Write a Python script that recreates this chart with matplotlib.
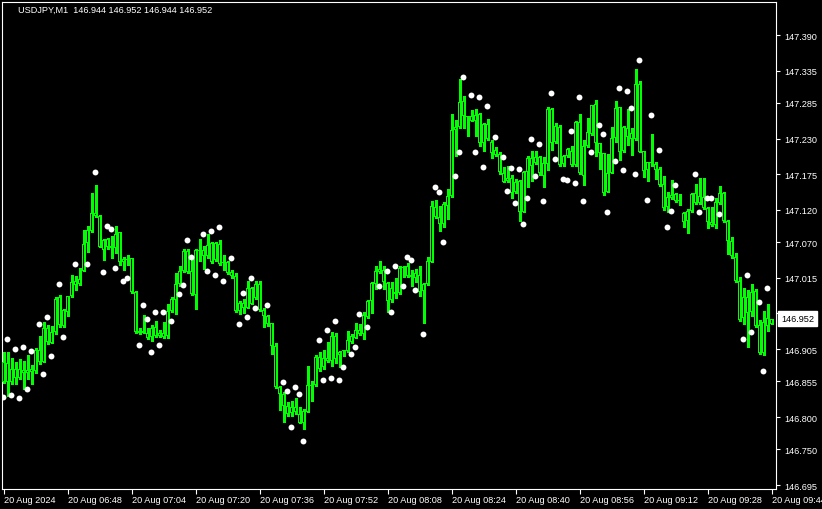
import matplotlib
matplotlib.use("Agg")
import matplotlib.pyplot as plt
import numpy as np

plt.rcParams["font.family"] = ["Liberation Sans", "DejaVu Sans"]

# ---- data: USDJPY M1, 20 Aug 2024 06:32 .. 09:44 ----
opens = [
    146.885, 146.854, 146.874, 146.860, 146.874, 146.868, 146.873, 146.870, 146.871, 146.904,
    146.885, 146.938, 146.914, 146.931, 146.985, 146.941, 146.962, 146.987, 147.010, 147.006,
    147.026, 147.069, 147.087, 147.115, 147.111, 147.058, 147.075, 147.064, 147.061, 147.086,
    147.040, 147.044, 147.046, 146.993, 146.930, 146.933, 146.930, 146.924, 146.939, 146.925,
    146.930, 146.925, 146.964, 146.981, 147.006, 147.026, 147.056, 147.026, 146.988, 147.058,
    147.058, 147.049, 147.069, 147.043, 147.067, 147.038, 147.040, 147.024, 147.018, 146.964,
    146.976, 146.968, 146.999, 146.984, 147.006, 146.965, 146.956, 146.945, 146.910, 146.846,
    146.836, 146.817, 146.806, 146.815, 146.805, 146.791, 146.808, 146.849, 146.849, 146.893,
    146.877, 146.891, 146.887, 146.925, 146.896, 146.902, 146.902, 146.916, 146.922, 146.934,
    146.928, 146.954, 146.979, 147.006, 147.024, 147.027, 147.007, 146.981, 146.993, 146.992,
    147.030, 147.033, 147.019, 147.015, 147.019, 146.995, 147.006, 147.040, 147.124, 147.109,
    147.098, 147.126, 147.141, 147.243, 147.248, 147.288, 147.265, 147.257, 147.266, 147.268,
    147.223, 147.253, 147.225, 147.212, 147.206, 147.177, 147.165, 147.169, 147.148, 147.165,
    147.117, 147.179, 147.200, 147.192, 147.202, 147.172, 147.191, 147.276, 147.225, 147.248,
    147.191, 147.203, 147.211, 147.189, 147.256, 147.172, 147.219, 147.237, 147.284, 147.223,
    147.208, 147.148, 147.177, 147.231, 147.279, 147.211, 147.246, 147.229, 147.229, 147.314,
    147.211, 147.182, 147.194, 147.191, 147.183, 147.160, 147.124, 147.138, 147.144, 147.134,
    147.115, 147.103, 147.118, 147.146, 147.131, 147.140, 147.123, 147.101, 147.097, 147.131,
    147.146, 147.103, 147.072, 147.047, 147.010, 146.953, 146.985, 146.962, 146.995, 146.942,
    146.899, 146.953, 146.944,
]
highs = [
    146.900, 146.900, 146.891, 146.885, 146.890, 146.886, 146.896, 146.880, 146.907, 146.925,
    146.947, 146.942, 146.941, 146.985, 146.988, 146.967, 146.987, 147.019, 147.018, 147.030,
    147.089, 147.095, 147.146, 147.158, 147.112, 147.075, 147.077, 147.080, 147.095, 147.086,
    147.047, 147.050, 147.046, 146.995, 146.938, 146.958, 146.938, 146.942, 146.948, 146.934,
    146.947, 146.975, 146.985, 147.022, 147.033, 147.060, 147.060, 147.049, 147.060, 147.075,
    147.064, 147.083, 147.070, 147.070, 147.073, 147.050, 147.041, 147.027, 147.022, 146.979,
    146.982, 147.010, 147.001, 147.010, 147.010, 146.968, 146.958, 146.945, 146.914, 146.848,
    146.839, 146.823, 146.825, 146.829, 146.815, 146.812, 146.879, 146.856, 146.896, 146.900,
    146.904, 146.916, 146.931, 146.930, 146.902, 146.904, 146.933, 146.928, 146.945, 146.944,
    146.962, 146.981, 147.009, 147.033, 147.041, 147.033, 147.009, 147.009, 147.015, 147.033,
    147.033, 147.038, 147.027, 147.029, 147.033, 147.007, 147.047, 147.134, 147.135, 147.126,
    147.132, 147.152, 147.268, 147.259, 147.322, 147.296, 147.265, 147.274, 147.276, 147.270,
    147.254, 147.260, 147.228, 147.217, 147.209, 147.186, 147.188, 147.174, 147.168, 147.166,
    147.180, 147.203, 147.211, 147.211, 147.203, 147.202, 147.279, 147.277, 147.254, 147.251,
    147.205, 147.216, 147.219, 147.257, 147.268, 147.228, 147.262, 147.282, 147.290, 147.223,
    147.208, 147.206, 147.248, 147.288, 147.279, 147.250, 147.276, 147.246, 147.338, 147.319,
    147.211, 147.194, 147.237, 147.194, 147.186, 147.172, 147.148, 147.166, 147.146, 147.144,
    147.117, 147.121, 147.146, 147.160, 147.169, 147.169, 147.124, 147.124, 147.138, 147.157,
    147.148, 147.104, 147.078, 147.053, 147.016, 146.999, 146.996, 147.006, 146.998, 146.950,
    146.964, 146.975, 146.952,
]
lows = [
    146.853, 146.833, 146.851, 146.851, 146.859, 146.843, 146.859, 146.851, 146.868, 146.882,
    146.885, 146.913, 146.914, 146.928, 146.939, 146.939, 146.956, 146.985, 146.996, 147.004,
    147.026, 147.055, 147.086, 147.109, 147.063, 147.043, 147.060, 147.046, 147.053, 147.035,
    147.027, 147.035, 146.992, 146.930, 146.928, 146.930, 146.921, 146.917, 146.924, 146.924,
    146.922, 146.922, 146.962, 146.959, 147.002, 147.024, 147.022, 146.988, 146.967, 147.041,
    147.029, 147.046, 147.038, 147.041, 147.035, 147.027, 147.021, 147.015, 146.962, 146.959,
    146.961, 146.968, 146.975, 146.982, 146.964, 146.939, 146.941, 146.897, 146.845, 146.811,
    146.792, 146.802, 146.802, 146.805, 146.791, 146.782, 146.808, 146.825, 146.848, 146.871,
    146.874, 146.885, 146.879, 146.883, 146.877, 146.894, 146.900, 146.914, 146.922, 146.927,
    146.921, 146.953, 146.961, 146.998, 147.022, 146.998, 146.962, 146.978, 146.984, 146.990,
    147.016, 147.016, 147.002, 147.009, 146.987, 146.945, 147.004, 147.040, 147.107, 147.087,
    147.094, 147.106, 147.140, 147.203, 147.246, 147.246, 147.234, 147.257, 147.234, 147.219,
    147.211, 147.228, 147.200, 147.203, 147.175, 147.163, 147.163, 147.138, 147.146, 147.103,
    147.117, 147.155, 147.165, 147.191, 147.174, 147.155, 147.182, 147.212, 147.223, 147.188,
    147.188, 147.202, 147.188, 147.188, 147.175, 147.158, 147.217, 147.236, 147.203, 147.183,
    147.143, 147.148, 147.177, 147.225, 147.197, 147.209, 147.220, 147.205, 147.228, 147.209,
    147.171, 147.165, 147.188, 147.168, 147.157, 147.120, 147.117, 147.137, 147.132, 147.128,
    147.094, 147.084, 147.117, 147.129, 147.129, 147.121, 147.092, 147.095, 147.092, 147.129,
    147.101, 147.052, 147.046, 147.009, 146.948, 146.944, 146.908, 146.956, 146.939, 146.897,
    146.896, 146.933, 146.944,
]
closes = [
    146.854, 146.883, 146.854, 146.874, 146.860, 146.873, 146.868, 146.874, 146.904, 146.885,
    146.938, 146.916, 146.931, 146.982, 146.942, 146.965, 146.987, 147.009, 147.004, 147.013,
    147.067, 147.089, 147.115, 147.111, 147.063, 147.073, 147.063, 147.061, 147.083, 147.040,
    147.044, 147.043, 146.993, 146.931, 146.933, 146.930, 146.922, 146.938, 146.925, 146.930,
    146.924, 146.964, 146.982, 147.006, 147.026, 147.056, 147.024, 146.990, 147.058, 147.056,
    147.049, 147.066, 147.040, 147.069, 147.036, 147.040, 147.022, 147.018, 146.964, 146.976,
    146.968, 146.999, 146.975, 147.006, 146.965, 146.956, 146.944, 146.910, 146.846, 146.836,
    146.817, 146.805, 146.815, 146.808, 146.791, 146.809, 146.849, 146.848, 146.893, 146.874,
    146.891, 146.887, 146.925, 146.890, 146.900, 146.904, 146.919, 146.925, 146.934, 146.928,
    146.958, 146.979, 147.007, 147.026, 147.029, 147.009, 146.979, 146.999, 146.990, 147.030,
    147.032, 147.018, 147.016, 147.022, 146.993, 147.006, 147.041, 147.126, 147.109, 147.098,
    147.129, 147.141, 147.243, 147.248, 147.287, 147.265, 147.263, 147.265, 147.257, 147.223,
    147.253, 147.229, 147.208, 147.205, 147.179, 147.163, 147.169, 147.146, 147.163, 147.117,
    147.179, 147.200, 147.188, 147.202, 147.177, 147.192, 147.276, 147.223, 147.250, 147.189,
    147.203, 147.214, 147.189, 147.256, 147.177, 147.219, 147.240, 147.282, 147.223, 147.208,
    147.146, 147.177, 147.231, 147.277, 147.209, 147.248, 147.233, 147.239, 147.314, 147.209,
    147.180, 147.194, 147.192, 147.182, 147.158, 147.123, 147.140, 147.143, 147.134, 147.135,
    147.101, 147.118, 147.144, 147.131, 147.141, 147.123, 147.101, 147.097, 147.132, 147.146,
    147.103, 147.072, 147.049, 147.010, 146.950, 146.985, 146.961, 146.993, 146.941, 146.899,
    146.947, 146.941, 146.952,
]

# white indicator dots: bar index and price
dot_idx = [
    -1, 0, 1, 2, 3, 4, 5, 6, 8, 9, 10, 11, 13, 14, 17, 20, 22, 24, 25, 26,
    27, 29, 30, 33, 34, 35, 36, 37, 38, 39, 41, 43, 44, 45, 46, 49, 50, 51, 52, 53,
    54, 56, 58, 59, 60, 61, 62, 65, 69, 70, 71, 72, 73, 74, 78, 79, 80, 81, 82, 83,
    84, 86, 87, 88, 90, 93, 95, 96, 97, 99, 100, 101, 102, 104, 107, 108, 109, 112, 113, 114,
    116, 117, 118, 119, 120, 122, 124, 125, 126, 127, 128, 129, 130, 131, 132, 133, 134, 136, 137, 139,
    140, 141, 142, 143, 144, 146, 148, 149, 150, 152, 153, 154, 155, 156, 157, 158, 160, 161, 163, 165,
    166, 167, 172, 173, 175, 176, 178, 184, 185, 186, 188, 189, 190,
]
dot_price = [
    146.831, 146.920, 146.834, 146.905, 146.829, 146.908, 146.844, 146.902, 146.943, 146.866,
    146.954, 146.895, 147.005, 146.923, 147.037, 147.036, 147.178, 147.024, 147.095, 147.090,
    147.030, 147.010, 147.014, 146.912, 146.973, 146.952, 146.900, 146.962, 146.911, 146.962,
    146.948, 146.990, 147.004, 147.073, 147.047, 147.082, 147.025, 147.088, 147.020, 147.093,
    147.010, 147.045, 146.943, 146.991, 146.954, 147.014, 146.968, 146.973, 146.854, 146.840,
    146.784, 146.846, 146.835, 146.763, 146.919, 146.857, 146.935, 146.860, 146.948, 146.857,
    146.877, 146.898, 146.908, 146.959, 146.939, 147.002, 147.025, 146.962, 147.033, 147.002,
    147.047, 147.042, 146.996, 146.928, 147.155, 147.147, 147.071, 147.173, 147.210, 147.325,
    147.298, 147.209, 147.295, 147.186, 147.281, 147.232, 147.201, 147.149, 147.184, 147.130,
    147.183, 147.098, 147.138, 147.230, 147.173, 147.221, 147.133, 147.301, 147.198, 147.167,
    147.166, 147.241, 147.161, 147.294, 147.134, 147.210, 147.251, 147.237, 147.116, 147.195,
    147.308, 147.181, 147.303, 147.277, 147.175, 147.352, 147.135, 147.266, 147.213, 147.093,
    147.118, 147.159, 147.175, 147.116, 147.138, 147.139, 147.113, 146.920, 147.020, 146.932,
    146.977, 146.871, 146.999,
]

price_ticks = [147.390, 147.335, 147.285, 147.230, 147.175, 147.120, 147.070,
               147.015, 146.960, 146.905, 146.855, 146.800, 146.750, 146.695]
time_idx = [0, 16, 32, 48, 64, 80, 96, 112, 128, 144, 160, 176, 192]
time_labels = ["20 Aug 2024", "20 Aug 06:48", "20 Aug 07:04", "20 Aug 07:20",
               "20 Aug 07:36", "20 Aug 07:52", "20 Aug 08:08", "20 Aug 08:24",
               "20 Aug 08:40", "20 Aug 08:56", "20 Aug 09:12", "20 Aug 09:28",
               "20 Aug 09:44"]
symbol = "USDJPY,M1"

# ---- figure ----
W, H = 822, 510
fig = plt.figure(figsize=(W / 100, H / 100), dpi=100, facecolor="black")
# plot frame in pixels: left 2, right 776, top 3, bottom 490
ax = fig.add_axes([2 / W, (H - 490) / H, (776 - 2) / W, (490 - 3) / H])
ax.set_facecolor("black")

# pixel -> data mapping: bar i centred at x = 3.5 + 4 i, price 147.390 at y = 36
px_price = 0.0015444
ax.set_xlim((2 - 3.5) / 4, (776 - 3.5) / 4)
ax.set_ylim(147.4456 - px_price * 490, 147.4456 - px_price * 3)

lime = "#00ff00"
idx = np.arange(len(opens))
o = np.array(opens)
c = np.array(closes)
body_lo = np.minimum(o, c)
body_h = np.maximum(np.abs(c - o), px_price)

# 1px wicks, 3px bodies with a 1px dark core (hollow candles)
ax.vlines(idx, lows, highs, colors=lime, linewidth=0.75, zorder=2,
          antialiased=False)
outer = ax.bar(idx, body_h, bottom=body_lo, width=0.75, color=lime,
               linewidth=0, zorder=3)
core_h = body_h - 2 * px_price
hollow = core_h > 0
inner = ax.bar(idx[hollow], core_h[hollow], bottom=body_lo[hollow] + px_price,
               width=0.25, color="black", linewidth=0, zorder=3.5)
for b in list(outer) + list(inner):
    b.set_antialiased(False)

ax.scatter(np.array(dot_idx) + 0.75, dot_price, s=18, c="white",
           linewidths=0, zorder=4)

for s in ax.spines.values():
    s.set_color("white")
    s.set_linewidth(0.8)

ax.yaxis.tick_right()
ax.set_yticks(price_ticks)
ax.set_yticklabels([f"{p:.3f}" for p in price_ticks])
ax.tick_params(axis="y", colors="white", length=3, width=0.8, pad=3,
               labelsize=6.6)

ax.set_xticks(time_idx)
ax.set_xticklabels(time_labels, ha="left")
ax.tick_params(axis="x", colors="white", length=3.5, width=0.8, pad=0.5,
               labelsize=6.6)

# current price tag
ax.text(1.0 + 5 / 774, closes[-1], f"{closes[-1]:.3f}", transform=ax.get_yaxis_transform(),
        color="black", fontsize=6.6, va="center", ha="left", zorder=10,
        clip_on=False,
        bbox=dict(boxstyle="square,pad=0.3", facecolor="white", edgecolor="white"))

header = (f"{symbol}  {opens[-1]:.3f} {highs[-1]:.3f} "
          f"{lows[-1]:.3f} {closes[-1]:.3f}")
fig.text(18 / W, 1 - 10 / H, header, color="white", fontsize=6.6, va="center",
         ha="left")

fig.savefig("out.png", dpi=100, facecolor="black")
